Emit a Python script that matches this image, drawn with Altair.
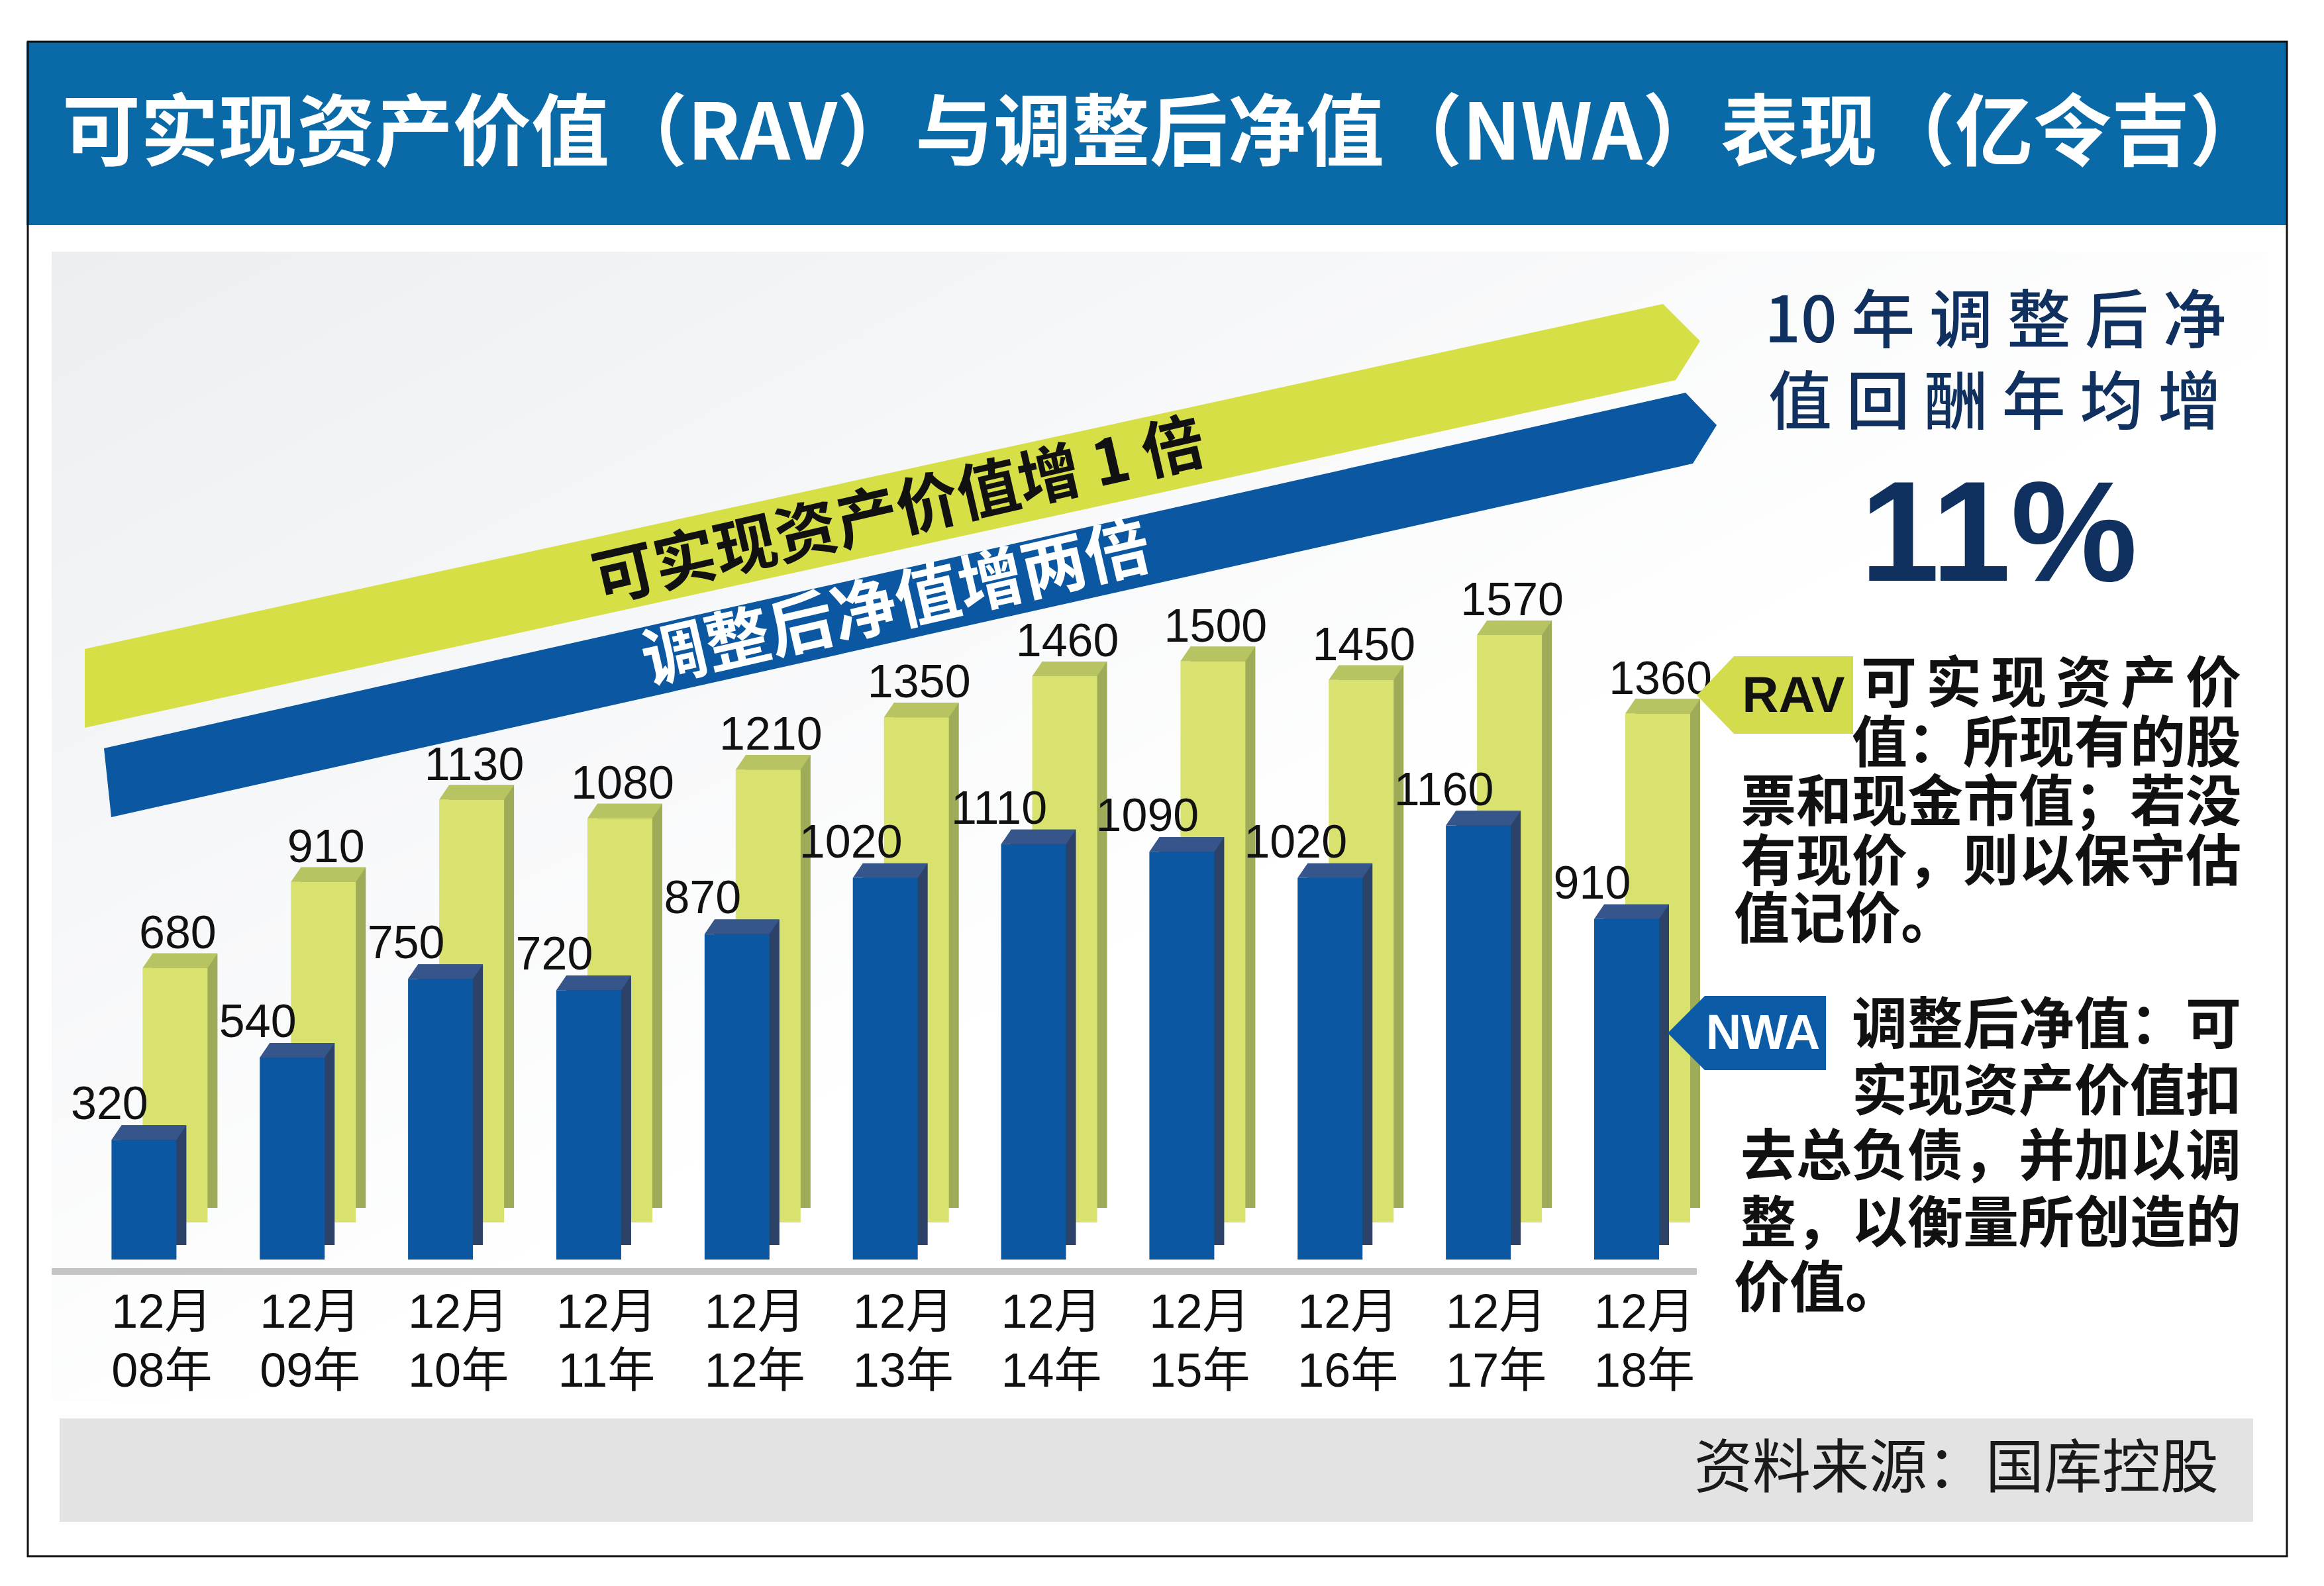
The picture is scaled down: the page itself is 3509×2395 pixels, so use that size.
import altair as alt
import pandas as pd

# ---------------- data ----------------
years = ["08年", "09年", "10年", "11年", "12年", "13年", "14年", "15年", "16年", "17年", "18年"]
months = ["12月"] * 11
nwa = [320, 540, 750, 720, 870, 1020, 1110, 1090, 1020, 1160, 910]
rav = [680, 910, 1130, 1080, 1210, 1350, 1460, 1500, 1450, 1570, 1360]

title = "可实现资产价值（RAV）与调整后净值（NWA）表现（亿令吉）"
arrow_rav_text = "可实现资产价值增 1 倍"
arrow_nwa_text = "调整后净值增两倍"
side_head = ["10 年 调 整 后 净", "值 回 酬 年 均 增"]
side_pct = "11%"
rav_lines = ["可\u2006实\u2006现\u2006资\u2006产\u2006价", "值：所现有的股", "票和现金市值；若没", "有现价，则以保守估", "值记价。"]
nwa_lines = ["调整后净值：可", "实现资产价值扣", "去总负债，并加以调", "整，以衡量所创造的", "价值。"]
source = "资料来源：国库控股"

W, H = 3509, 2395
CJK = "Noto Sans CJK SC"
NUM = "Liberation Sans, Noto Sans CJK SC"

df = pd.DataFrame({"i": list(range(len(years))), "year": years, "month": months,
                   "nwa": nwa, "rav": rav, "base": [0] * len(years)})

# scales: category index -> pixel centre, value -> pixel height
X0, STEP = 213.0, 224.5
xdom = [-X0 / STEP, (W - X0) / STEP]
K, BASE = 0.565, 1902.0
ydom = [(BASE - H) / K, BASE / K]
xs = alt.X("i:Q", scale=alt.Scale(domain=xdom, nice=False, zero=False), axis=None)


def ys(field):
    return alt.Y(f"{field}:Q", scale=alt.Scale(domain=ydom, nice=False, zero=False), axis=None)


one = pd.DataFrame({"k": [0]})


def rect(x, x2, y, y2, **kw):
    return alt.Chart(one).mark_rect(**kw).encode(
        x=alt.value(x), x2=alt.value(x2), y=alt.value(y), y2=alt.value(y2))


def text(x, y, t, **kw):
    return alt.Chart(one).mark_text(text=t, **kw).encode(x=alt.value(x), y=alt.value(y))


R = 2000.0


def poly(points, color):
    path = "M" + " L".join(f"{px / R:.4f},{py / R:.4f}" for px, py in points) + " Z"
    return alt.Chart(one).mark_point(shape=path, filled=True, size=(2 * R) ** 2, color=color,
                                     opacity=1, strokeWidth=0).encode(x=alt.value(0), y=alt.value(0))


layers = []
# background panel (subtle gradient)
grad = alt.Gradient(gradient="linear", x1=0, y1=0, x2=1, y2=1,
                    stops=[alt.GradientStop(color="#eceef1", offset=0),
                           alt.GradientStop(color="#ffffff", offset=0.55),
                           alt.GradientStop(color="#ffffff", offset=1)])
layers.append(rect(78, 3424, 380, 2115, color=grad))
# title bar
layers.append(rect(40, 3453, 63, 340, color="#0a69a7"))
layers.append(text(94, 206, title, font=CJK, fontSize=118, fontWeight="bold", color="white",
                   align="left", baseline="middle"))

# diagonal arrows
layers.append(poly([(128, 980), (2511, 459), (2567, 515), (2530, 574), (128, 1099)], "#d6df45"))
layers.append(poly([(157, 1130), (2545, 593), (2592, 642), (2556, 700), (168, 1234)], "#0b57a2"))
layers.append(text(1358, 776, arrow_rav_text, font=CJK, fontSize=94, fontWeight="bold", color="#111111",
                   align="center", baseline="middle", angle=347))
layers.append(text(1354, 916, arrow_nwa_text, font=CJK, fontSize=98, fontWeight="bold", color="white",
                   align="center", baseline="middle", angle=347))

# baseline
layers.append(alt.Chart(one).mark_rule(color="#c4c4c4", strokeWidth=10).encode(
    x=alt.value(78), x2=alt.value(2562), y=alt.value(1920)))

# 3D bars
DX, DY = 15, -22
BW = 98


def bar_set(field, front, side, top, ox, oy):
    base = alt.Chart(df)
    back = base.mark_bar(size=BW, color=side, xOffset=ox + DX, x2Offset=ox + DX,
                         yOffset=oy + DY, y2Offset=oy + DY).encode(x=xs, y=ys(field), y2="base:Q")
    fr = base.mark_bar(size=BW, color=front, xOffset=ox, x2Offset=ox,
                       yOffset=oy, y2Offset=oy).encode(x=xs, y=ys(field), y2="base:Q")
    hb = BW / 2
    pts = [(-hb, 0), (-hb + DX, DY), (hb + DX, DY), (hb, 0)]
    r = 100.0
    path = "M" + " L".join(f"{px / r:.3f},{py / r:.3f}" for px, py in pts) + " Z"
    tp = base.mark_point(shape=path, filled=True, size=(2 * r) ** 2, color=top, opacity=1,
                         strokeWidth=0, xOffset=ox, yOffset=oy).encode(x=xs, y=ys(field))
    return [back, fr, tp]


layers += bar_set("rav", "#d9e26e", "#9eab58", "#b8c462", 47, -56)
layers += bar_set("nwa", "#0b57a2", "#2c4268", "#36558a", 0, 0)

# value labels
layers.append(alt.Chart(df).mark_text(font=NUM, fontSize=70, color="#111111", align="center",
                                      baseline="alphabetic", dx=51, dy=-86).encode(
    x=xs, y=ys("rav"), text="rav:Q"))
layers.append(alt.Chart(df).mark_text(font=NUM, fontSize=70, color="#111111", align="center",
                                      baseline="alphabetic", dx=-52, dy=-31).encode(
    x=xs, y=ys("nwa"), text="nwa:Q"))

# category labels
layers.append(alt.Chart(df).mark_text(font=NUM, fontSize=72, color="#111111", align="center",
                                      baseline="middle", dx=27).encode(
    x=xs, y=alt.value(1983), text="month:N"))
layers.append(alt.Chart(df).mark_text(font=NUM, fontSize=72, color="#111111", align="center",
                                      baseline="middle", dx=27).encode(
    x=xs, y=alt.value(2072), text="year:N"))

# tags
layers.append(poly([(2562, 1050), (2618, 991), (2798, 991), (2798, 1108), (2618, 1108)], "#d3dc4c"))
layers.append(text(2708, 1052, "RAV", font="Liberation Sans", fontSize=76, fontWeight="bold",
                   color="#111111", align="center", baseline="middle"))
layers.append(poly([(2518, 1560), (2574, 1504), (2757, 1504), (2757, 1616), (2574, 1616)], "#0b5ba6"))
layers.append(text(2662, 1562, "NWA", font="Liberation Sans", fontSize=74, fontWeight="bold",
                   color="white", align="center", baseline="middle"))

# right-hand headline
NAVY = "#10305f"
layers.append(text(3013, 488, side_head[0], font=CJK, fontSize=96, fontWeight=500, color=NAVY,
                   align="center", baseline="middle"))
layers.append(text(3012, 611, side_head[1], font=CJK, fontSize=96, fontWeight=500, color=NAVY,
                   align="center", baseline="middle"))
layers.append(text(3018, 877, side_pct, font="Liberation Sans", fontSize=215, fontWeight="bold",
                   color=NAVY, align="center", baseline="alphabetic"))

# descriptions
for t, yy in zip(rav_lines[:4], [1036, 1126, 1215, 1305]):
    layers.append(text(3384, yy, t, font=CJK, fontSize=84, fontWeight="bold", color="#111111",
                       align="right", baseline="middle"))
layers.append(text(2618, 1392, rav_lines[4], font=CJK, fontSize=84, fontWeight="bold", color="#111111",
                   align="left", baseline="middle"))
for t, yy in zip(nwa_lines[:4], [1551, 1652, 1750, 1851]):
    layers.append(text(3384, yy, t, font=CJK, fontSize=84, fontWeight="bold", color="#111111",
                       align="right", baseline="middle"))
layers.append(text(2618, 1949, nwa_lines[4], font=CJK, fontSize=84, fontWeight="bold", color="#111111",
                   align="left", baseline="middle"))

# source bar
layers.append(rect(90, 3402, 2142, 2298, color="#e3e3e3"))
layers.append(text(3350, 2220, source, font=CJK, fontSize=88, color="#1a1a1a",
                   align="right", baseline="middle"))

# outer frame
layers.append(alt.Chart(one).mark_rect(filled=False, stroke="#111111", strokeWidth=3).encode(
    x=alt.value(42), x2=alt.value(3453), y=alt.value(63), y2=alt.value(2350)))

chart = alt.layer(*layers).properties(
    width=W, height=H, padding=0, autosize="none", background="white"
).configure_view(stroke=None)

chart.save("out.html", embed_options={"renderer": "svg", "actions": False})
